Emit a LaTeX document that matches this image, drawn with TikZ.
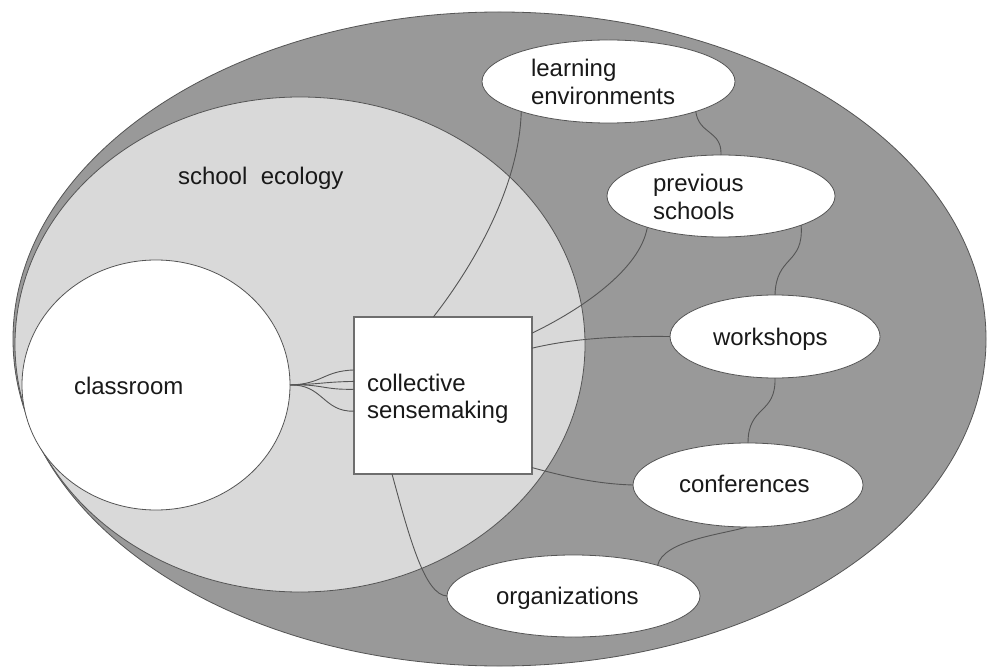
\documentclass[tikz,border=0pt]{standalone}
\usepackage{fontspec}
\setmainfont{Liberation Sans}
\usetikzlibrary{shapes.geometric}

\definecolor{worldfill}{RGB}{153,153,153}
\definecolor{schoolfill}{RGB}{217,217,217}
\definecolor{edgeline}{RGB}{85,85,85}
\definecolor{boxline}{RGB}{110,110,110}
\definecolor{labeltext}{RGB}{25,25,25}

% two stacked lines, the box baseline being the first line's
\newcommand{\stackedlabel}[2]{\vtop{\baselineskip=27.5pt\hbox{#1}\hbox{#2}}}

\tikzset{
  region/.style={ellipse, draw=edgeline, line width=0.8pt, inner sep=0pt, outer sep=0pt},
  topic/.style={region, fill=white},
  hubbox/.style={rectangle, draw=boxline, line width=1.3pt, fill=white,
    inner sep=0pt, outer sep=0pt, minimum width=178, minimum height=157},
  caption/.style={anchor=base west, inner sep=0pt, outer sep=0pt, text=labeltext,
    font=\fontsize{24}{28}\selectfont},
  link/.style={draw=edgeline, line width=0.9pt},
}

\begin{document}
\begin{tikzpicture}[x=1pt, y=-1pt]
  \useasboundingbox (0,0) rectangle (987,668);
  \fill[white] (0,0) rectangle (987,668);

  % nested environments
  \node[region, fill=worldfill, minimum width=973, minimum height=654] (world) at (499.5,339) {};
  \node[region, fill=schoolfill, minimum width=570, minimum height=495] (school) at (300,344.5) {};
  \node[topic, minimum width=268, minimum height=250] (cls) at (156,385) {};

  % outside sources
  \node[topic, minimum width=253, minimum height=83] (learn) at (608.5,81.5) {};
  \node[topic, minimum width=228, minimum height=82] (prev) at (721,196) {};
  \node[topic, minimum width=210, minimum height=83] (work) at (775,336.5) {};
  \node[topic, minimum width=230, minimum height=84] (conf) at (748,485) {};
  \node[topic, minimum width=253, minimum height=82] (org) at (573.5,596) {};

  % central box
  \node[hubbox] (sq) at (443,395.5) {};

  % labels
  \node[caption] (t-eco) at (178,185) {school\hspace{0.56em}ecology};
  \node[caption] (t-cls) at (74,394) {classroom};
  \node[caption] (t-sq) at (367,391) {\stackedlabel{collective}{sensemaking}};
  \node[caption] (t-learn) at (531,76.7) {\stackedlabel{learning}{environments}};
  \node[caption] (t-prev) at (653,191.7) {\stackedlabel{previous}{schools}};
  \node[caption] (t-work) at (713,345) {workshops};
  \node[caption] (t-conf) at (679,492.7) {conferences};
  \node[caption] (t-org) at (496,604) {organizations};

  % classroom to the central box
  \draw[link] (cls.0) .. controls (323,384) and (323,371) .. (sq.164.6);
  \draw[link] (cls.0) .. controls (323,384) and (323,382) .. (sq.171.4);
  \draw[link] (cls.0) .. controls (323,384) and (323,390) .. (sq.176.5);
  \draw[link] (cls.0) .. controls (323,384) and (323,412) .. (sq.190.5);

  % central box to the outside sources
  \draw[link] (sq.97.3) .. controls (470,270) and (519,190) .. (learn.199.4);
  \draw[link] (sq.35.1) .. controls (580,310) and (640,270) .. (prev.203);
  \draw[link] (sq.28.1) .. controls (575,338) and (620,336) .. (work.180);
  \draw[link] (sq.-39.6) .. controls (570,478) and (600,484) .. (conf.180);
  \draw[link] (sq.237.5) .. controls (410,540) and (425,595) .. (org.180);

  % chain between the outside sources
  \draw[link] (learn.-19.4) .. controls (699,135) and (722,130) .. (prev.90);
  \draw[link] (prev.-20.7) .. controls (804,265) and (776,255) .. (work.90);
  \draw[link] (work.270) .. controls (776,415) and (748,405) .. (conf.90);
  \draw[link] (conf.268) .. controls (725,534) and (663,540) .. (org.20.2);
\end{tikzpicture}
\end{document}
